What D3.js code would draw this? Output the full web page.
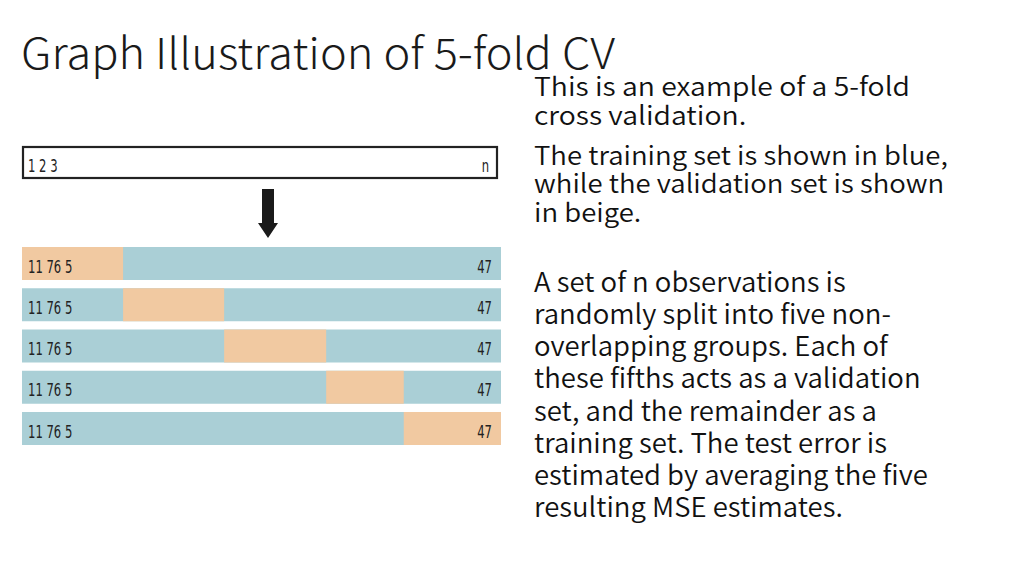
<!DOCTYPE html>
<html>
<head>
<meta charset="utf-8">
<script src="https://cdn.jsdelivr.net/npm/d3@7"></script>
<style>
  html, body { margin: 0; padding: 0; background: #fff; }
  svg { display: block; }
</style>
</head>
<body>
<svg id="chart" width="1024" height="576"></svg>
<script>
// ---- data ----
const title = "Graph Illustration of 5-fold CV";
const folds = [1, 2, 3, 4, 5];
// fold boundaries as percentage of the n observations
const foldStarts = [0, 21.1, 42.2, 63.5, 79.7];
const foldEnds   = [21.1, 42.2, 63.5, 79.7, 100];
const topLeftLabel = "1 2 3";
const topRightLabel = "n";
const rowLeftLabel = "11 76 5";
const rowRightLabel = "47";
const para1 = ["This is an example of a 5-fold", "cross validation."];
const para2 = ["The training set is shown in blue,", "while the validation set is shown", "in beige."];
const para3 = ["A set of n observations is", "randomly split into five non-", "overlapping groups. Each of",
  "these fifths acts as a validation", "set, and the remainder as a", "training set. The test error is",
  "estimated by averaging the five", "resulting MSE estimates."];

// ---- drawing ----
const svg = d3.select("#chart");
const blue = "#aacfd6", beige = "#f1c9a1";
const labelFont = "'DejaVu Sans Condensed', 'DejaVu Sans', sans-serif";
const bodyFont = "'Noto Sans CJK SC', 'Noto Sans', sans-serif";
const labelSqueeze = 0.76;

const x = d3.scaleLinear().domain([0, 100]).range([22, 501]);
const y = d3.scaleBand().domain(folds).range([247, 445]).paddingInner(0.2).paddingOuter(0);

// title
svg.append("text").attr("transform", "translate(21,69) scale(1.05,1)")
  .attr("font-family", bodyFont).attr("font-weight", 300)
  .attr("font-size", 43).attr("fill", "#1a1a1a")
  .text(title);

function label(g, tx, ty, txt, anchor) {
  g.append("text").attr("transform", `translate(${tx},${ty}) scale(${labelSqueeze},1)`)
    .attr("text-anchor", anchor).attr("font-family", labelFont)
    .attr("font-size", 17).attr("fill", "#222").text(txt);
}

// top full data bar
svg.append("rect").attr("x", x(0) + 1).attr("y", 147).attr("width", x(100) - x(0) - 5).attr("height", 31)
  .attr("fill", "#fff").attr("stroke", "#222").attr("stroke-width", 2.2);
label(svg, 28, 172, topLeftLabel, "start");
label(svg, 489, 172, topRightLabel, "end");

// arrow
const ax = 268;
svg.append("path")
  .attr("d", `M${ax - 6},189 L${ax + 6},189 L${ax + 6},223 L${ax + 10},223 L${ax},238 L${ax - 10},223 L${ax - 6},223 Z`)
  .attr("fill", "#1a1a1a");

// fold rows
folds.forEach((d, i) => {
  const g = svg.append("g");
  g.append("rect").attr("x", x(0)).attr("y", y(d)).attr("width", x(100) - x(0))
    .attr("height", y.bandwidth()).attr("fill", blue);
  g.append("rect").attr("x", x(foldStarts[i])).attr("y", y(d))
    .attr("width", x(foldEnds[i]) - x(foldStarts[i]))
    .attr("height", y.bandwidth()).attr("fill", beige);
  label(g, 28, y(d) + y.bandwidth() / 2 + 9, rowLeftLabel, "start");
  label(g, 492, y(d) + y.bandwidth() / 2 + 9, rowRightLabel, "end");
});

// right-hand text
function para(lines, y0, step, size, sx) {
  svg.append("g").attr("transform", `translate(534,0) scale(${sx},1)`)
    .selectAll("text").data(lines).join("text")
    .attr("x", 0).attr("y", (d, i) => y0 + i * step)
    .attr("font-family", bodyFont).attr("font-weight", 350)
    .attr("font-size", size).attr("fill", "#111")
    .text(d => d);
}
para(para1, 96, 29, 26, 1.09);
para(para2, 165, 28.5, 26, 1.06);
para(para3, 292, 32.14, 27, 1.02);
</script>
</body>
</html>
